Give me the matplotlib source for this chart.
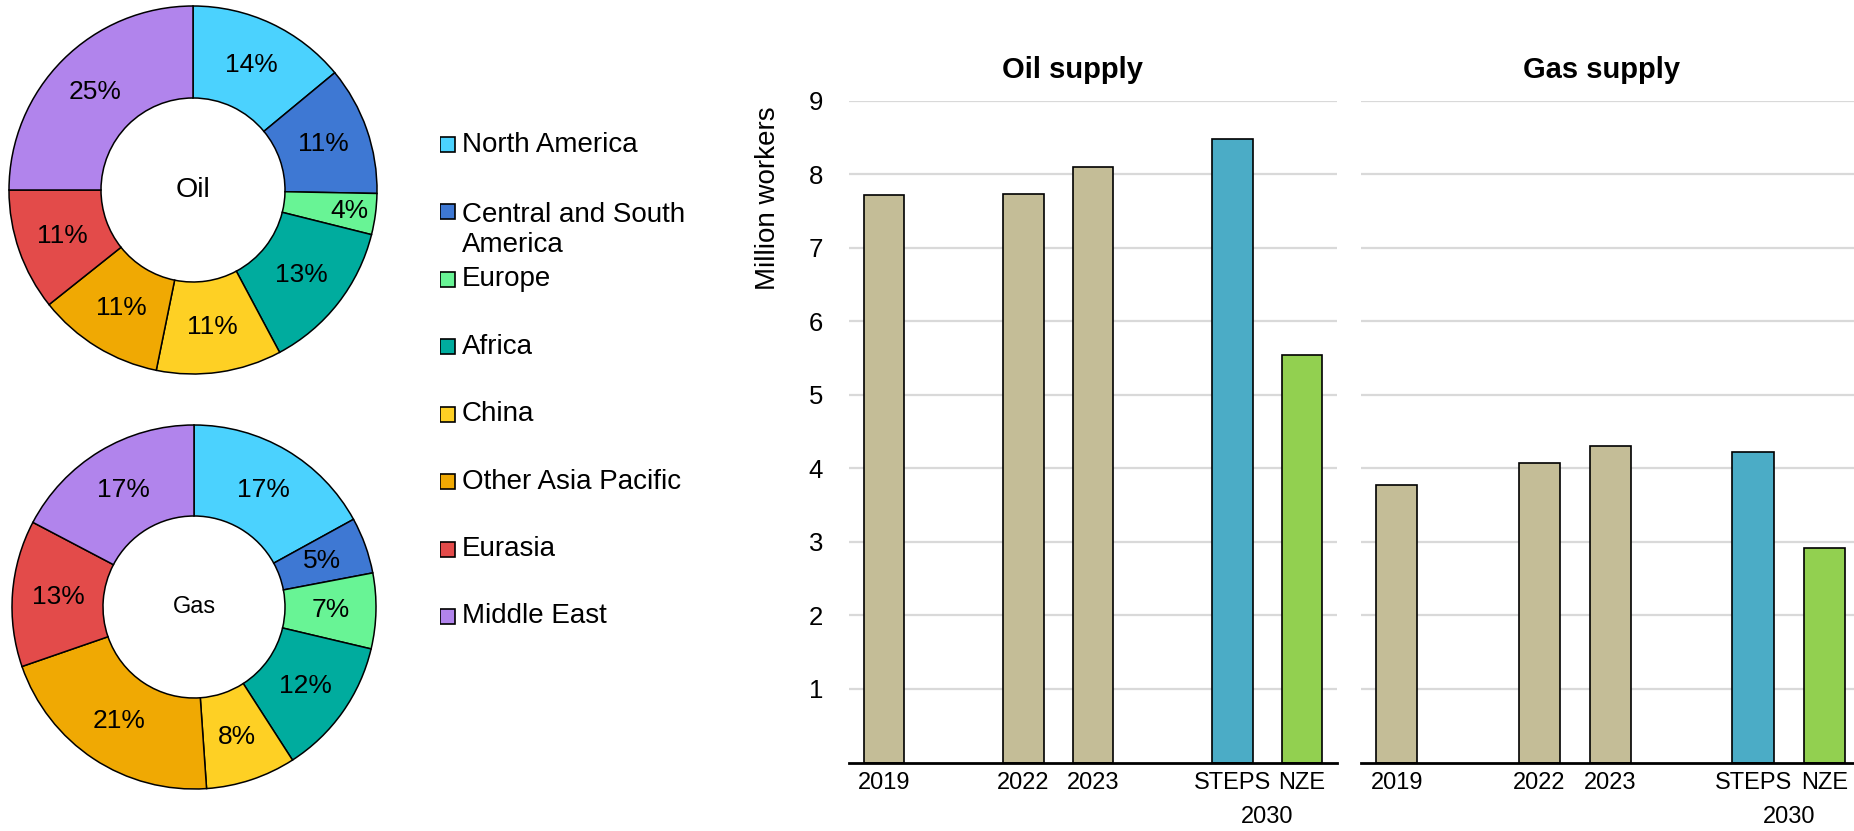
import numpy as np
import matplotlib
matplotlib.use('Agg')
import matplotlib.pyplot as plt
from matplotlib.patches import Rectangle

plt.rcParams['font.family'] = ['Liberation Sans', 'DejaVu Sans']

# regional shares of workers (%)
regions = ['North America', 'Central and South\nAmerica', 'Europe', 'Africa',
           'China', 'Other Asia Pacific', 'Eurasia', 'Middle East']
region_colors = ['#4BD2FE', '#3E78D3', '#68F495', '#00AC9E',
                 '#FED024', '#F0A903', '#E34B4A', '#B184EC']
oil_share = [14.0, 11.3, 3.6, 13.3, 11.0, 11.1, 10.7, 25.0]
gas_share = [17.0, 5.0, 6.7, 12.2, 8.0, 20.8, 13.0, 17.3]

# million workers
periods = ['2019', '2022', '2023', 'STEPS', 'NZE']
oil_workers = [7.71, 7.73, 8.10, 8.48, 5.54]
gas_workers = [3.78, 4.07, 4.30, 4.22, 2.91]
bar_colors = ['#C4BD97', '#C4BD97', '#C4BD97', '#4BACC6', '#92D050']

W, H = 1854, 831
fig = plt.figure(figsize=(W / 100, H / 100), dpi=100)


def box(x0, y0, x1, y1):
    # pixel box (top-left origin) -> figure fraction
    return [x0 / W, 1 - y1 / H, (x1 - x0) / W, (y1 - y0) / H]


def donut(cx, cy, r, shares, name, name_size, small=None):
    m = 1.02
    ax = fig.add_axes(box(cx - r * m, cy - r * m, cx + r * m, cy + r * m))
    wedges, texts, autotexts = ax.pie(
        shares, colors=region_colors, startangle=90, counterclock=False,
        radius=1, autopct='%.0f%%', pctdistance=0.75,
        wedgeprops=dict(width=0.5, edgecolor='black', linewidth=1.1),
        textprops=dict(fontsize=19))
    if small is not None:
        x, y = autotexts[small].get_position()
        autotexts[small].set_position((x * 0.86 / 0.75, y * 0.86 / 0.75))
    ax.text(0, 0, name, ha='center', va='center', fontsize=name_size)
    ax.set_xlim(-m, m)
    ax.set_ylim(-m, m)
    ax.set_aspect('equal')
    ax.axis('off')


donut(193, 190, 184, oil_share, 'Oil', 20.5, small=2)
donut(194, 607, 182, gas_share, 'Gas', 17)

# legend
lax = fig.add_axes(box(440, 110.9, 720, 650.1))
lax.set_xlim(0, 280)
lax.set_ylim(len(regions) - 0.5, -0.5)
lax.axis('off')
sq = 15
for i, (name, c) in enumerate(zip(regions, region_colors)):
    lax.add_patch(Rectangle((0, i - sq / 2 / 67.4), sq, sq / 67.4,
                            facecolor=c, edgecolor='black', linewidth=1.2))
    if '\n' in name:
        lax.text(22, i - 10 / 67.4, name, ha='left', va='top', fontsize=20,
                 linespacing=1.2)
    else:
        lax.text(22, i, name, ha='left', va='center', fontsize=20)

# bar panels
slots = [0, 2, 3, 5, 6]


def bars(x0, x1, values, show_y):
    ax = fig.add_axes(box(x0, 100.6, x1, 762.5))
    ax.bar(slots, values, width=0.58, color=bar_colors, edgecolor='black',
           linewidth=1.2, zorder=3)
    ax.set_xlim(-0.5, 6.5)
    ax.set_ylim(0, 9)
    ax.set_yticks(range(1, 10))
    ax.grid(axis='y', color='#D9D9D9', linewidth=1.6, zorder=0)
    ax.set_axisbelow(True)
    for s in ['top', 'right', 'left']:
        ax.spines[s].set_visible(False)
    ax.spines['bottom'].set_linewidth(2)
    ax.spines['bottom'].set_zorder(4)
    ax.set_xticks(slots, periods)
    ax.tick_params(axis='x', length=0, pad=7, labelsize=17)
    ax.tick_params(axis='y', length=0, pad=18.7, labelsize=18.5,
                   labelleft=show_y)
    ax.text(5.5, -0.0914, '2030', transform=ax.get_xaxis_transform(),
            ha='center', va='baseline', fontsize=17)
    return ax


bars(849, 1337, oil_workers, True)
bars(1361, 1860, gas_workers, False)

fig.text(1073 / W, 1 - 78 / H, 'Oil supply', ha='center', va='baseline',
         fontsize=21, fontweight='bold')
fig.text(1602 / W, 1 - 78 / H, 'Gas supply', ha='center', va='baseline',
         fontsize=21, fontweight='bold')
fig.text(768 / W, 1 - 198.5 / H, 'Million workers', rotation=90,
         ha='center', va='center', fontsize=20)

fig.savefig('out.png', dpi=100)
